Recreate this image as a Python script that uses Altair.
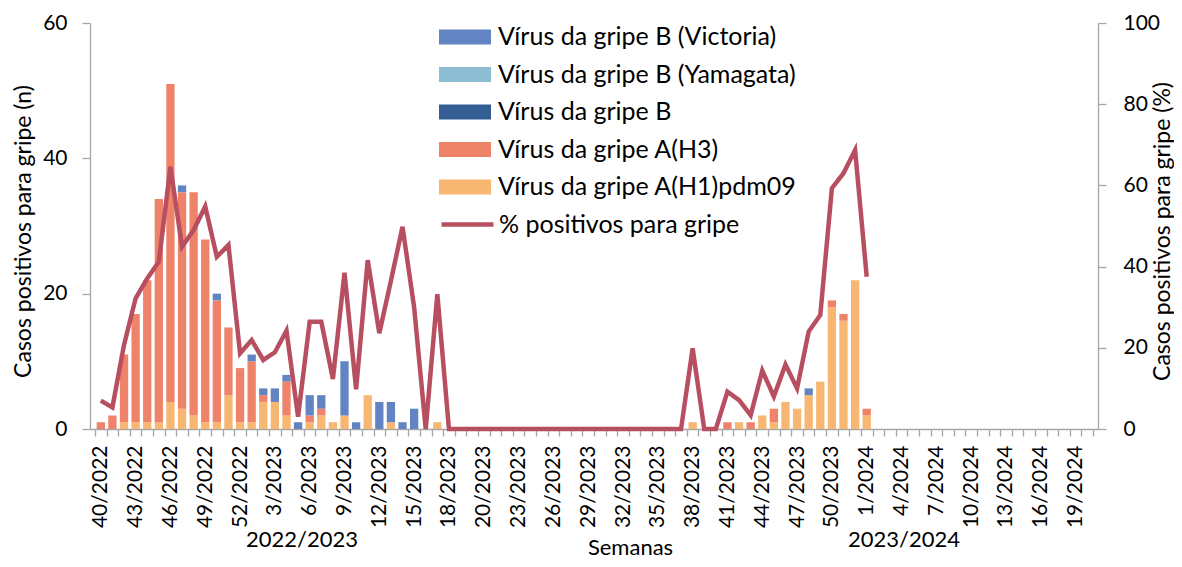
import altair as alt
import pandas as pd

# ---- data ----
# weekly categories: index 0 = 40/2022 ... index 85 (last category)
n_weeks = 86
tick_labels = ["40/2022", "43/2022", "46/2022", "49/2022", "52/2022", "3/2023", "6/2023",
               "9/2023", "12/2023", "15/2023", "18/2023", "20/2023", "23/2023", "26/2023",
               "29/2023", "32/2023", "35/2023", "38/2023", "41/2023", "44/2023", "47/2023",
               "50/2023", "1/2024", "4/2024", "7/2024", "10/2024", "13/2024", "16/2024",
               "19/2024"]

h1 = [0, 0, 1, 1, 1, 1, 4, 3, 2, 1, 1, 5, 1, 1, 4, 4, 2, 0, 1, 2,
      1, 2, 0, 5, 0, 1, 0, 0, 0, 1, 0, 0, 0, 0, 0, 0, 0, 0, 0, 0,
      0, 0, 0, 0, 0, 0, 0, 0, 0, 0, 0, 1, 0, 0, 0, 1, 0, 2, 1, 4,
      3, 5, 7, 18, 16, 22, 2, 0, 0, 0, 0, 0, 0, 0, 0, 0, 0, 0, 0, 0,
      0, 0, 0, 0, 0, 0]
h3 = [1, 2, 10, 16, 21, 33, 47, 32, 33, 27, 18, 10, 8, 9, 1, 0, 5, 0, 1, 1,
      0, 0, 0, 0, 0, 0, 0, 0, 0, 0, 0, 0, 0, 0, 0, 0, 0, 0, 0, 0,
      0, 0, 0, 0, 0, 0, 0, 0, 0, 0, 0, 0, 0, 0, 1, 0, 1, 0, 2, 0,
      0, 0, 0, 1, 1, 0, 1, 0, 0, 0, 0, 0, 0, 0, 0, 0, 0, 0, 0, 0,
      0, 0, 0, 0, 0, 0]
victoria = [0, 0, 0, 0, 0, 0, 0, 1, 0, 0, 1, 0, 0, 1, 1, 2, 1, 1, 3, 2,
            0, 8, 1, 0, 4, 3, 1, 3, 0, 0, 0, 0, 0, 0, 0, 0, 0, 0, 0, 0,
            0, 0, 0, 0, 0, 0, 0, 0, 0, 0, 0, 0, 0, 0, 0, 0, 0, 0, 0, 0,
            0, 1, 0, 0, 0, 0, 0, 0, 0, 0, 0, 0, 0, 0, 0, 0, 0, 0, 0, 0,
            0, 0, 0, 0, 0, 0]
yamagata = [0] * n_weeks
b_nao_sub = [0] * n_weeks

pct = [7, 5.3, 20.7, 32.2, 37.1, 41.2, 64.6, 44.9, 49, 54.8,
       42.4, 45.3, 18.6, 21.9, 17, 18.9, 24.2, 3, 26.4, 26.4,
       12.3, 38.5, 9.8, 41.6, 23.6, 36.5, 49.8, 30, 0, 33.2,
       0, 0, 0, 0, 0, 0, 0, 0, 0, 0,
       0, 0, 0, 0, 0, 0, 0, 0, 0, 0,
       0, 19.9, 0, 0, 9.2, 7.1, 3.4, 14.4, 8, 15.9,
       10, 24, 28.1, 59.3, 63, 68.7, 37.5]

series_names = ["Vírus da gripe B (Victoria)", "Vírus da gripe B (Yamagata)",
                "Vírus da gripe B", "Vírus da gripe A(H3)", "Vírus da gripe A(H1)pdm09"]
series_colors = ["#6384C2", "#8CBDD3", "#355F92", "#EE836A", "#F7B671"]
line_name = "% positivos para gripe"
line_color = "#B84F61"

# ---- tables ----
rows = []
for name, vals, order in [(series_names[4], h1, 1), (series_names[3], h3, 2),
                          (series_names[2], b_nao_sub, 3), (series_names[1], yamagata, 4),
                          (series_names[0], victoria, 5)]:
    for i, v in enumerate(vals):
        rows.append({"idx": i, "serie": name, "n": v, "ord": order})
df_bar = pd.DataFrame(rows)
df_line = pd.DataFrame({"idx": list(range(len(pct))), "pct": pct, "serie": line_name})

label_pos = [3 * k for k in range(len(tick_labels))]
tick_pos = [i - 0.5 for i in range(n_weeks + 1)]
labels_js = "[" + ",".join("'" + t + "'" for t in tick_labels) + "]"

FONT = "Lato"
AX = "#A6A6A6"
xscale = alt.Scale(domain=[-0.5, n_weeks - 0.5], nice=False, zero=False)

bars = alt.Chart(df_bar).mark_bar(size=8.3).encode(
    x=alt.X("idx:Q", scale=xscale,
            axis=alt.Axis(orient="bottom", values=label_pos,
                          labelExpr=labels_js + "[round(datum.value/3)]",
                          labelAngle=270, labelPadding=16, ticks=False, tickSize=0,
                          domain=False, grid=False, labelFontSize=21,
                          title="Semanas", titleFontSize=22, titleFontWeight="normal",
                          titleX=540, titleY=125, titleAlign="center",
                          titleBaseline="alphabetic", labelOverlap=False)),
    y=alt.Y("n:Q", stack="zero", scale=alt.Scale(domain=[0, 60], nice=False),
            axis=alt.Axis(values=[0, 20, 40, 60], title="Casos positivos para gripe (n)",
                          grid=False, tickSize=8, labelPadding=15, labelFontSize=21,
                          titleFontSize=23, titleFontWeight="normal", titleAngle=270,
                          titleX=-60, titleY=208, titleAlign="center",
                          titleBaseline="alphabetic")),
    color=alt.Color("serie:N",
                    scale=alt.Scale(domain=series_names, range=series_colors),
                    legend=alt.Legend(title=None, orient="none", legendX=362, legendY=1,
                                      symbolType="M-2,-0.58H2V0.58H-2Z", symbolSize=676,
                                      symbolStrokeWidth=0, symbolOpacity=1,
                                      labelFontSize=25, labelOffset=20, rowPadding=11.5,
                                      padding=0, labelColor="black", labelLimit=500)),
    order=alt.Order("ord:Q"),
)

line = alt.Chart(df_line).mark_line(strokeWidth=4.5).encode(
    x=alt.X("idx:Q", scale=xscale,
            axis=alt.Axis(orient="bottom", values=tick_pos, labels=False, ticks=True,
                          tickSize=7, domain=True, grid=False, title=None)),
    y=alt.Y("pct:Q", scale=alt.Scale(domain=[0, 100], nice=False),
            axis=alt.Axis(orient="right", values=[0, 20, 40, 60, 80, 100],
                          title="Casos positivos para gripe (%)", grid=False, tickSize=8,
                          labelPadding=17, labelFontSize=21, titleFontSize=23,
                          titleFontWeight="normal", titleAngle=270, titleX=71, titleY=208,
                          titleAlign="center", titleBaseline="alphabetic")),
    color=alt.Color("serie:N", scale=alt.Scale(domain=[line_name], range=[line_color]),
                    legend=alt.Legend(title=None, orient="none", legendX=349, legendY=173,
                                      symbolType="stroke", symbolSize=2704,
                                      symbolStrokeWidth=4.5, labelFontSize=25,
                                      labelOffset=3, padding=0, labelColor="black",
                                      labelLimit=500)),
)

season1 = alt.Chart(pd.DataFrame({"t": ["2022/2023"]})).mark_text(
    font=FONT, fontSize=22, color="black", align="center", baseline="middle"
).encode(text="t:N", x=alt.value(212), y=alt.value(517))
season2 = alt.Chart(pd.DataFrame({"t": ["2023/2024"]})).mark_text(
    font=FONT, fontSize=22, color="black", align="center", baseline="middle"
).encode(text="t:N", x=alt.value(814), y=alt.value(517))

chart = alt.layer(bars, line, season1, season2).resolve_scale(
    y="independent", color="independent"
).resolve_axis(x="independent").properties(
    width=1008, height=406,
    padding={"left": 82, "top": 15, "right": 76, "bottom": 130},
    autosize=alt.AutoSizeParams(type="none"),
).configure(font=FONT).configure_view(stroke=None).configure_axis(
    labelFont=FONT, titleFont=FONT, labelColor="black", titleColor="black",
    domainColor=AX, tickColor=AX, domainWidth=1.3, tickWidth=1.3
).configure_legend(labelFont=FONT)

chart.save("out.html", embed_options={"renderer": "svg", "actions": False})
